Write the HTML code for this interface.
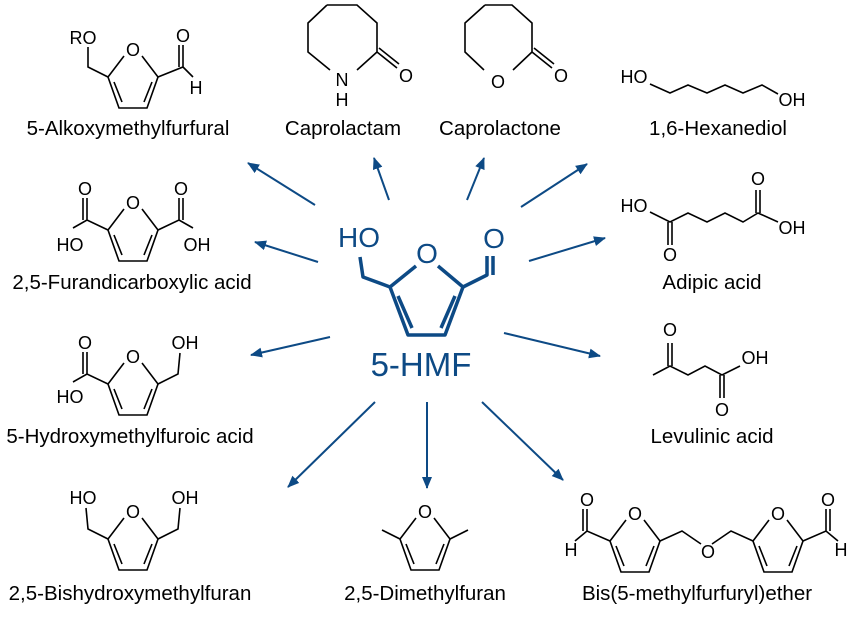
<!DOCTYPE html>
<html><head><meta charset="utf-8"><style>
html,body{margin:0;padding:0;background:#fff}
svg text{font-family:"Liberation Sans",sans-serif}
.lb{font-size:20.5px}
</style></head><body>
<svg width="850" height="614" viewBox="0 0 850 614" xmlns="http://www.w3.org/2000/svg">
<defs>
<g id="ring" fill="none" stroke="#000" stroke-width="1.6">
<path d="M-9,6 L-25,27 L-14,58 L14,58 L25,27 L9,6"/>
<path d="M-19,32 L-11,52 M19,32 L11,52"/>
</g>
<marker id="ah" markerWidth="14" markerHeight="12" refX="11" refY="5" orient="auto" markerUnits="userSpaceOnUse">
<path d="M0,0 L12,5 L0,10 Z" fill="#0d4a85"/>
</marker>
</defs>
<g font-size="18" fill="#000" text-anchor="middle">
<g transform="translate(133,50)">
<use href="#ring"/>
<text x="0" y="6">O</text>
<path d="M-25,27 L-45,17 L-45,-3 M25,27 L50,17 L60,27 M50,17 L50,-5 M46,17 L46,-5" stroke="#000" stroke-width="1.6" fill="none"/>
<text x="-50" y="-6">RO</text>
<text x="50" y="-8">O</text>
<text x="63" y="44">H</text>
</g>
<text class="lb" x="128" y="135">5-Alkoxymethylfurfural</text>
<g transform="translate(133,203)">
<use href="#ring"/>
<text x="0" y="6">O</text>
<path d="M-25,27 L-46,17 L-60,25 M-46,17 L-46,-5 M-50,17 L-50,-5 M25,27 L46,17 L60,25 M46,17 L46,-5 M50,17 L50,-5" stroke="#000" stroke-width="1.6" fill="none"/>
<text x="-48" y="-8">O</text><text x="48" y="-8">O</text>
<text x="-63" y="48">HO</text><text x="64" y="48">OH</text>
</g>
<text class="lb" x="132" y="289">2,5-Furandicarboxylic acid</text>
<g transform="translate(133,357)">
<use href="#ring"/>
<text x="0" y="6">O</text>
<path d="M-25,27 L-46,17 L-60,25 M-46,17 L-46,-5 M-50,17 L-50,-5 M25,27 L45,17 L47,-4" stroke="#000" stroke-width="1.6" fill="none"/>
<text x="-48" y="-8">O</text>
<text x="-63" y="46">HO</text><text x="52" y="-8">OH</text>
</g>
<text class="lb" x="130" y="443">5-Hydroxymethylfuroic acid</text>
<g transform="translate(133,512)">
<use href="#ring"/>
<text x="0" y="6">O</text>
<path d="M-25,27 L-45,17 L-47,-4 M25,27 L45,17 L47,-4" stroke="#000" stroke-width="1.6" fill="none"/>
<text x="-50" y="-8">HO</text><text x="52" y="-8">OH</text>
</g>
<text class="lb" x="130" y="600">2,5-Bishydroxymethylfuran</text>
<g transform="translate(425,512)">
<use href="#ring"/>
<text x="0" y="6">O</text>
<path d="M-25,27 L-43,18 M25,27 L43,18" stroke="#000" stroke-width="1.6" fill="none"/>
</g>
<text class="lb" x="425" y="600">2,5-Dimethylfuran</text>
<g transform="translate(635,514)">
<use href="#ring"/>
<text x="0" y="6">O</text>
<path d="M-25,27 L-48,17 L-60,27 M-48,17 L-48,-5 M-52,17 L-52,-5 M25,27 L47,17 L66,30" stroke="#000" stroke-width="1.6" fill="none"/>
<text x="-48" y="-8">O</text><text x="-64" y="42">H</text>
</g>
<text x="708" y="558">O</text>
<g transform="translate(778,514)">
<use href="#ring"/>
<text x="0" y="6">O</text>
<path d="M-25,27 L-47,17 L-66,30 M25,27 L48,17 L60,27 M48,17 L48,-5 M52,17 L52,-5" stroke="#000" stroke-width="1.6" fill="none"/>
<text x="50" y="-8">O</text><text x="63" y="42">H</text>
</g>
<text class="lb" x="697" y="600">Bis(5-methylfurfuryl)ether</text>
<path d="M327,5 L357,5 L377,23 L377,52 L357,70 M330,70 L308,52 L308,23 L327,5 M377,52 L397,68 M379,48 L399,64" stroke="#000" stroke-width="1.6" fill="none"/>
<text x="342" y="86">N</text><text x="342" y="106">H</text><text x="406" y="82">O</text>
<text class="lb" x="343" y="135">Caprolactam</text>
<path d="M485,5 L512,5 L532,23 L532,52 L513,70 M484,70 L465,52 L465,23 L485,5 M532,52 L552,68 M534,48 L554,64" stroke="#000" stroke-width="1.6" fill="none"/>
<text x="498" y="88">O</text><text x="561" y="82">O</text>
<text class="lb" x="500" y="135">Caprolactone</text>
<path d="M650,84 L670,93 L688,85 L707,93 L725,85 L743,93 L762,85 L778,94" stroke="#000" stroke-width="1.6" fill="none"/>
<text x="634" y="83">HO</text><text x="792" y="106">OH</text>
<text class="lb" x="718" y="135">1,6-Hexanediol</text>
<path d="M650,212 L670,222 L688,213 L707,222 L725,213 L743,222 L758,213 L778,222 M668,222 L668,245 M672,222 L672,245 M756,213 L756,190 M760,213 L760,190" stroke="#000" stroke-width="1.6" fill="none"/>
<text x="634" y="212">HO</text><text x="792" y="234">OH</text>
<text x="670" y="261">O</text><text x="758" y="185">O</text>
<text class="lb" x="712" y="289">Adipic acid</text>
<path d="M653,375 L670,366 L688,375 L705,366 L722,375 L740,366 M668,366 L668,343 M672,366 L672,343 M720,375 L720,398 M724,375 L724,398" stroke="#000" stroke-width="1.6" fill="none"/>
<text x="670" y="336">O</text><text x="722" y="416">O</text><text x="755" y="364">OH</text>
<text class="lb" x="712" y="443">Levulinic acid</text>
</g>
<g stroke="#0d4a85" stroke-width="3.5" fill="none" stroke-linejoin="round">
<path d="M416,266 L390,287 L408,335 L445,335 L463,287 L438,266"/>
<path d="M398,296 L412,328 M455,296 L441,328"/>
<path d="M390,287 L363,277 L360,257 M463,287 L487,275 L487,256 M493,275 L493,256"/>
</g>
<g fill="#0d4a85" text-anchor="middle" font-size="28">
<text x="427" y="263">O</text>
<text x="359" y="247">HO</text>
<text x="494" y="248">O</text>
<text x="421" y="376" font-size="33">5-HMF</text>
</g>
<g stroke="#0d4a85" stroke-width="2" marker-end="url(#ah)">
<line x1="315" y1="205" x2="248" y2="163"/>
<line x1="389" y1="200" x2="374" y2="158"/>
<line x1="467" y1="200" x2="484" y2="158"/>
<line x1="521" y1="207" x2="587" y2="164"/>
<line x1="529" y1="261" x2="605" y2="238"/>
<line x1="318" y1="262" x2="255" y2="242"/>
<line x1="330" y1="337" x2="251" y2="355"/>
<line x1="504" y1="333" x2="600" y2="356"/>
<line x1="375" y1="402" x2="288" y2="487"/>
<line x1="427" y1="402" x2="427" y2="488"/>
<line x1="482" y1="402" x2="563" y2="480"/>
</g>
</svg>
</body></html>
